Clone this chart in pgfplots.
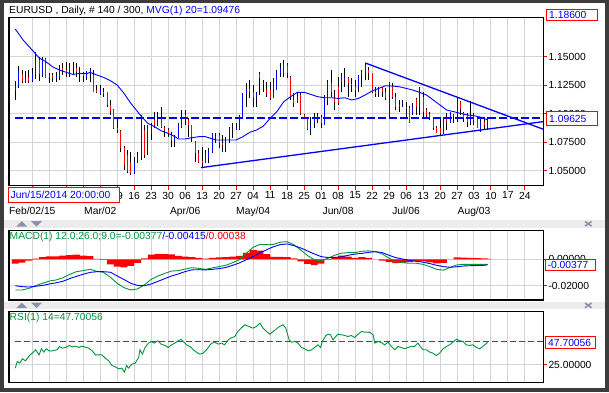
\documentclass[border=0pt]{standalone}
\usepackage{fontspec}
\setmainfont{Liberation Sans}
\usepackage{pgfplots}
\usepackage{pgfplotstable}
\pgfplotsset{compat=1.18}
\definecolor{gridc}{RGB}{212,212,212}
\definecolor{framec}{RGB}{60,60,60}
\definecolor{barbg}{RGB}{236,236,236}
\definecolor{mgreen}{RGB}{0,150,60}
\definecolor{arrowc}{RGB}{135,148,172}

\pgfplotstableread{
i O H L C
0 1.1200 1.1290 1.1125 1.1245
1 1.1240 1.1420 1.1225 1.1375
2 1.1345 1.1383 1.1267 1.1285
3 1.1290 1.1375 1.1267 1.1320
4 1.1320 1.1383 1.1267 1.1290
5 1.1290 1.1398 1.1275 1.1345
6 1.1345 1.1540 1.1305 1.1475
7 1.1475 1.1500 1.1290 1.1345
8 1.1345 1.1500 1.1320 1.1480
9 1.1480 1.1490 1.1310 1.1315
10 1.1330 1.1354 1.1267 1.1320
11 1.1340 1.1354 1.1281 1.1310
12 1.1310 1.1369 1.1281 1.1330
13 1.1310 1.1427 1.1296 1.1400
14 1.1400 1.1442 1.1340 1.1380
15 1.1380 1.1456 1.1325 1.1370
16 1.1370 1.1442 1.1325 1.1410
17 1.1400 1.1456 1.1340 1.1420
18 1.1400 1.1442 1.1325 1.1370
19 1.1370 1.1412 1.1281 1.1380
20 1.1360 1.1370 1.1281 1.1330
21 1.1325 1.1372 1.1300 1.1365
22 1.1360 1.1398 1.1281 1.1380
23 1.1340 1.1383 1.1188 1.1195
24 1.1208 1.1252 1.1179 1.1190
25 1.1170 1.1250 1.1165 1.1205
26 1.1190 1.1223 1.1150 1.1175
27 1.1190 1.1194 1.1062 1.1075
28 1.1080 1.1121 1.0990 1.1025
29 1.1030 1.1040 1.0870 1.0880
30 1.0880 1.0960 1.0829 1.0855
31 1.0850 1.0858 1.0669 1.0700
32 1.0700 1.0715 1.0508 1.0550
33 1.0640 1.0683 1.0480 1.0500
34 1.0581 1.0669 1.0464 1.0479
35 1.0479 1.0625 1.0470 1.0581
36 1.0581 1.0669 1.0567 1.0640
37 1.0610 1.0990 1.0596 1.0960
38 1.0858 1.0902 1.0610 1.0640
39 1.0654 1.0902 1.0640 1.0890
40 1.0820 1.0917 1.0771 1.0900
41 1.0950 1.1019 1.0873 1.0905
42 1.0902 1.1019 1.0890 1.0960
43 1.0960 1.1062 1.0873 1.0887
44 1.0880 1.0890 1.0800 1.0860
45 1.0860 1.0873 1.0800 1.0830
46 1.0815 1.0844 1.0712 1.0771
47 1.0760 1.0815 1.0712 1.0790
48 1.0785 1.0917 1.0785 1.0900
49 1.0887 1.1033 1.0873 1.0975
50 1.0990 1.1036 1.0902 1.0960
51 1.0950 1.0960 1.0800 1.0900
52 1.0900 1.0905 1.0756 1.0800
53 1.0756 1.0760 1.0581 1.0654
54 1.0654 1.0683 1.0567 1.0581
55 1.0590 1.0712 1.0529 1.0570
56 1.0570 1.0683 1.0567 1.0660
57 1.0610 1.0698 1.0567 1.0669
58 1.0669 1.0829 1.0654 1.0825
59 1.0790 1.0829 1.0742 1.0805
60 1.0815 1.0829 1.0698 1.0742
61 1.0742 1.0815 1.0669 1.0730
62 1.0712 1.0800 1.0669 1.0771
63 1.0771 1.0887 1.0742 1.0873
64 1.0860 1.0917 1.0785 1.0870
65 1.0870 1.0917 1.0858 1.0880
66 1.0870 1.0990 1.0858 1.0985
67 1.0975 1.1179 1.0960 1.1170
68 1.1170 1.1267 1.1062 1.1220
69 1.1220 1.1296 1.1135 1.1195
70 1.1195 1.1252 1.1062 1.1145
71 1.1145 1.1194 1.1062 1.1180
72 1.1350 1.1369 1.1165 1.1310
73 1.1270 1.1296 1.1194 1.1265
74 1.1208 1.1281 1.1150 1.1179
75 1.1208 1.1281 1.1121 1.1135
76 1.1135 1.1310 1.1135 1.1281
77 1.1208 1.1383 1.1208 1.1365
78 1.1360 1.1442 1.1325 1.1400
79 1.1354 1.1471 1.1325 1.1442
80 1.1427 1.1442 1.1310 1.1354
81 1.1325 1.1330 1.1121 1.1150
82 1.1121 1.1179 1.1062 1.1092
83 1.1092 1.1194 1.1092 1.1160
84 1.1165 1.1179 1.0990 1.1000
85 1.0990 1.1000 1.0955 1.0962
86 1.0975 1.0975 1.0858 1.0870
87 1.0870 1.0975 1.0815 1.0900
88 1.0917 1.1004 1.0873 1.0960
89 1.0960 1.1004 1.0917 1.0980
90 1.0975 1.0990 1.0880 1.0917
91 1.0902 1.1165 1.0902 1.1150
92 1.1121 1.1296 1.1077 1.1281
93 1.1267 1.1383 1.1150 1.1194
94 1.1135 1.1208 1.1033 1.1106
95 1.1237 1.1325 1.1077 1.1092
96 1.1280 1.1354 1.1194 1.1340
97 1.1296 1.1398 1.1237 1.1320
98 1.1310 1.1325 1.1150 1.1267
99 1.1260 1.1310 1.1194 1.1255
100 1.1237 1.1296 1.1150 1.1208
101 1.1237 1.1340 1.1194 1.1340
102 1.1340 1.1383 1.1237 1.1369
103 1.1354 1.1442 1.1296 1.1427
104 1.1383 1.1412 1.1296 1.1354
105 1.1354 1.1354 1.1179 1.1194
106 1.1194 1.1237 1.1150 1.1175
107 1.1194 1.1237 1.1150 1.1208
108 1.1223 1.1237 1.1150 1.1194
109 1.1194 1.1223 1.1121 1.1135
110 1.0990 1.1281 1.0975 1.1267
111 1.1240 1.1270 1.1130 1.1145
112 1.1150 1.1179 1.1033 1.1060
113 1.1060 1.1121 1.1019 1.1090
114 1.1090 1.1121 1.1062 1.1100
115 1.1060 1.1100 1.0960 1.1055
116 1.1055 1.1065 1.0917 1.0930
117 1.1010 1.1092 1.0990 1.1060
118 1.1130 1.1135 1.0990 1.1062
119 1.1062 1.1237 1.0990 1.1223
120 1.1150 1.1194 1.0975 1.1019
121 1.1033 1.1048 1.0960 1.0990
122 1.1000 1.1019 1.0946 1.0970
123 1.0960 1.0960 1.0858 1.0875
124 1.0875 1.0890 1.0829 1.0835
125 1.0873 1.0975 1.0815 1.0830
126 1.0829 1.0975 1.0825 1.0970
127 1.0960 1.1004 1.0858 1.0930
128 1.0920 1.1019 1.0917 1.1015
129 1.0990 1.0995 1.0917 1.0980
130 1.0990 1.1135 1.0931 1.1130
131 1.1106 1.1110 1.0990 1.1040
132 1.1010 1.1019 1.0931 1.0960
133 1.0990 1.1004 1.0887 1.0931
134 1.0931 1.1110 1.0902 1.0990
135 1.0990 1.1004 1.0902 1.0946
136 1.0960 1.0965 1.0873 1.0880
137 1.0858 1.0960 1.0844 1.0931
138 1.0931 1.0960 1.0858 1.0900
139 1.0873 1.0975 1.0858 1.09625
}\ohlc

\pgfplotstableread{
i ma
0 1.1742
2.3 1.1646
5 1.1558
7 1.1490
9 1.1456
11 1.1412
13 1.1383
15 1.1363
17 1.1345
19 1.1354
21 1.1351
22 1.1363
24 1.1340
26 1.1319
28 1.1290
30 1.1252
32 1.1179
34 1.1092
36 1.1019
37 1.0981
39 1.0917
41 1.0887
43 1.0850
45 1.0829
47 1.0800
48 1.0780
50 1.0780
52 1.0791
54 1.0800
56 1.0800
59 1.0771
63 1.0771
65 1.0771
67 1.0800
69 1.0838
71 1.0858
73 1.0893
75 1.0960
77 1.1019
79 1.1106
81 1.1150
83 1.1188
85 1.1188
87 1.1170
89 1.1150
91 1.1141
93 1.1141
95 1.1135
97 1.1141
99 1.1121
101 1.1135
103 1.1165
105 1.1200
107 1.1223
109 1.1246
111 1.1243
113 1.1237
115 1.1223
117 1.1208
119 1.1188
121 1.1165
123 1.1121
125 1.1077
127 1.1033
129 1.1019
131 1.1004
133 1.0990
135 1.0984
137 1.0970
139 1.0948
}\mvg

\pgfplotstableread{
i macd sig hist
0 -0.0230 -0.0198 -0.0032
2 -0.0230 -0.0205 -0.0025
4 -0.0218 -0.0208 -0.0010
6 -0.0198 -0.0202 0.0004
8 -0.0180 -0.0196 0.0016
10 -0.0163 -0.0185 0.0022
12 -0.0155 -0.0176 0.0021
14 -0.0138 -0.0165 0.0027
16 -0.0113 -0.0145 0.0032
18 -0.0093 -0.0128 0.0035
20 -0.0085 -0.0112 0.0027
22 -0.0075 -0.0098 0.0023
24 -0.0090 -0.0093 0.0003
26 -0.0098 -0.0093 -0.0005
28 -0.0135 -0.0097 -0.0038
30 -0.0180 -0.0125 -0.0055
32 -0.0212 -0.0152 -0.0060
34 -0.0230 -0.0180 -0.0050
36 -0.0222 -0.0196 -0.0026
38 -0.0191 -0.0198 0.0007
40 -0.0150 -0.0185 0.0035
42 -0.0125 -0.0165 0.0040
44 -0.0106 -0.0145 0.0039
46 -0.0088 -0.0125 0.0037
48 -0.0085 -0.0110 0.0025
50 -0.0073 -0.0092 0.0019
52 -0.0063 -0.0079 0.0016
54 -0.0068 -0.0078 0.0010
56 -0.0075 -0.0080 0.0005
58 -0.0065 -0.0075 0.0010
60 -0.0055 -0.0070 0.0015
62 -0.0045 -0.0061 0.0016
64 -0.0025 -0.0045 0.0020
66 -0.0002 -0.0027 0.0025
68 0.0045 -0.0003 0.0048
70 0.0090 0.0020 0.0070
72 0.0111 0.0047 0.0064
74 0.0110 0.0072 0.0038
76 0.0112 0.0094 0.0018
78 0.0128 0.0110 0.0018
80 0.0132 0.0115 0.0017
82 0.0108 0.0102 0.0006
84 0.0070 0.0085 -0.0015
86 0.0028 0.0062 -0.0034
88 -0.0003 0.0040 -0.0043
90 -0.0012 0.0020 -0.0032
92 0.0008 0.0013 -0.0005
94 0.0030 0.0014 0.0016
96 0.0046 0.0018 0.0028
98 0.0050 0.0030 0.0020
100 0.0050 0.0039 0.0011
102 0.0060 0.0044 0.0016
104 0.0063 0.0052 0.0011
106 0.0057 0.0057 0.0000
108 0.0040 0.0050 -0.0010
110 0.0008 0.0030 -0.0022
112 -0.0016 0.0012 -0.0028
114 -0.0025 0.0002 -0.0027
116 -0.0030 -0.0008 -0.0022
118 -0.0030 -0.0015 -0.0015
120 -0.0038 -0.0022 -0.0016
122 -0.0055 -0.0032 -0.0023
124 -0.0075 -0.0045 -0.0030
126 -0.0082 -0.0055 -0.0027
128 -0.0060 -0.0060 0.0000
130 -0.0042 -0.0056 0.0014
132 -0.0038 -0.0050 0.0012
134 -0.0038 -0.0048 0.0010
136 -0.0038 -0.0047 0.0009
138 -0.0038 -0.0045 0.0007
139 -0.00377 -0.00415 0.00038
}\macdtab

\pgfplotstableread{
i rsi
0 21.4
0.6 28.0
1.3 26.3
2.1 30.6
3.0 28.6
4.2 33.9
5.0 36.2
6.0 39.5
7.0 34.5
7.7 40.5
8.4 37.2
9.1 40.5
9.9 38.5
10.9 38.5
12.3 39.5
13.0 42.8
13.8 41.1
14.8 41.8
15.9 43.8
16.7 42.4
17.7 43.1
18.7 41.8
19.6 43.1
21.6 41.1
22.6 38.5
23.6 34.5
24.5 34.5
25.5 34.5
26.5 31.2
27.5 28.6
28.4 24.0
29.4 22.7
30.4 20.7
31.4 21.4
32.1 17.4
32.8 24.0
33.3 21.4
34.3 25.3
35.3 26.3
36.3 31.9
36.7 39.5
37.4 35.2
38.2 41.8
39.2 46.1
40.0 47.7
40.9 46.1
41.9 48.4
42.9 45.1
44.1 43.8
45.0 41.8
46.0 44.4
47.0 46.1
47.9 48.4
48.8 49.7
49.4 47.7
50.4 44.4
51.4 42.8
52.4 39.5
53.3 37.2
54.3 35.2
55.3 36.2
56.3 39.5
57.2 43.8
57.9 46.1
58.7 47.0
59.7 45.1
60.7 46.1
61.6 44.4
62.4 48.4
63.4 51.0
64.6 52.6
65.5 57.6
66.5 60.9
67.5 64.2
68.7 62.5
69.9 60.9
71.0 62.5
72.0 65.8
72.9 60.9
73.9 57.6
74.9 54.9
75.9 57.6
76.9 60.2
77.8 62.5
78.8 64.2
79.6 60.9
80.6 49.3
81.3 47.0
82.3 47.7
83.2 46.1
84.2 41.8
85.2 40.5
86.2 38.5
87.2 39.5
88.1 41.8
89.1 44.4
89.8 41.8
90.4 47.7
91.4 53.6
92.1 54.9
92.8 54.3
93.5 49.3
94.3 52.6
95.0 54.9
96.0 54.3
97.0 53.6
97.9 52.6
98.9 53.6
99.9 51.6
100.9 54.9
101.9 57.6
102.8 56.9
104.3 56.9
105.3 54.3
105.8 46.1
106.8 47.7
107.7 46.7
108.7 44.4
109.7 47.0
110.7 42.8
111.7 39.5
112.6 42.8
113.6 41.8
114.6 40.5
115.6 41.8
116.6 42.8
117.5 42.8
118.5 46.1
119.2 42.8
120.0 39.5
121.0 39.5
122.0 37.2
122.9 36.2
123.9 33.9
124.9 36.2
125.9 40.5
126.9 42.8
127.8 44.4
128.8 47.0
129.8 50.0
130.8 48.4
131.8 47.7
132.7 44.4
133.7 43.8
134.7 44.4
135.7 41.8
136.7 40.5
137.6 42.8
138.8 46.1
139 47.70
}\rsitab

\pgfplotsset{
  panel/.style={
    scale only axis, width=534.3pt,
    xmin=-1.85, xmax=155.4,
    axis line style={black, line width=1.2pt},
    grid=major, major grid style={gridc, line width=1pt},
    xtick={5,10,...,150},
    ytick pos=right, yticklabel pos=right,
    tick align=outside,
    y tick style={red, line width=1pt},
    major tick length=4pt,
    yticklabel style={anchor=west, inner sep=1pt},
    scaled y ticks=false,
    /pgf/number format/assume math mode=true,
    clip=true,
  },
  candle/.style={draw=none, mark=none, forget plot,
    error bars/.cd, y dir=plus, y explicit, error mark=none,
    error bar style={draw=#1, line width=1pt}},
}

\begin{document}
\begin{tikzpicture}[font=\fontsize{10.3}{12}\selectfont]
\useasboundingbox (0pt,0pt) rectangle (609pt,392pt);
\fill[framec] (0pt,0pt) rectangle (609pt,392pt);
\fill[white] (4pt,4pt) rectangle (605pt,389pt);
\fill[barbg] (4pt,164.3pt) rectangle (605pt,172pt);
\fill[barbg] (4pt,82.7pt) rectangle (605pt,89.6pt);
% panel arrows
\foreach \yy in {164.3, 82.7}{
  \fill[arrowc] (16.3pt,\yy pt+1.2pt) -- (27.2pt,\yy pt+1.2pt) -- (21.75pt,\yy pt+6.6pt) -- cycle;
  \fill[arrowc] (31pt,\yy pt+6.6pt) -- (42pt,\yy pt+6.6pt) -- (36.5pt,\yy pt+1.2pt) -- cycle;
  \draw[arrowc, line width=1.6pt] (585pt,\yy pt+1.6pt) -- (591.5pt,\yy pt+6.2pt);
  \draw[arrowc, line width=1.6pt] (585pt,\yy pt+6.2pt) -- (591.5pt,\yy pt+1.6pt);
}

% ---------------- main price panel
\begin{axis}[panel,
  at={(9pt,206.3pt)}, anchor=south west, height=168.2pt,
  ymin=1.0371, ymax=1.1843,
  ytick={1.05,1.075,1.1,1.125,1.15},
  yticklabels={1.05000,1.07500,1.10000,1.12500,1.15000},
  xticklabels={02,09,16,23,02,09,16,23,30,06,13,20,27,04,11,18,25,01,08,15,22,29,06,13,20,27,03,10,17,24},
  xtick pos=bottom,
  x tick style={red, line width=1pt},
  xticklabel style={inner sep=1pt, yshift=-1pt},
  extra x ticks={5,25,50,70,95,115,135},
  extra x tick labels={Feb/02/15,Mar/02,Apr/06,May/04,Jun/08,Jul/06,Aug/03},
  extra x tick style={grid=none, major tick length=0pt, xticklabel style={yshift=-19pt}},
]
% wicks
\addplot[candle=black] table[x=i, y=L, y error expr=\thisrow{H}-\thisrow{L}] {\ohlc};
% up bodies
\addplot[restrict expr to domain={\thisrow{C}-\thisrow{O}}{0:1}, candle=blue]
  table[x=i, y=O, y error expr=\thisrow{C}-\thisrow{O}] {\ohlc};
% down bodies
\addplot[restrict expr to domain={\thisrow{O}-\thisrow{C}}{0.00001:1}, candle=red]
  table[x=i, y=C, y error expr=\thisrow{O}-\thisrow{C}] {\ohlc};
% moving average
\addplot[blue, line width=0.9pt, mark=none] table[x=i, y=ma] {\mvg};
% trend lines
\addplot[blue, line width=1.3pt, mark=none] coordinates {(103,1.1445) (155.4,1.0865)};
\addplot[blue, line width=1.3pt, mark=none] coordinates {(54.6,1.0529) (155.4,1.0932)};
% current price
\addplot[blue, line width=1.3pt, mark=none, dash pattern=on 7.5pt off 3.5pt] coordinates {(0,1.09625) (155.4,1.09625)};
\end{axis}

% ---------------- MACD panel
\begin{axis}[panel,
  at={(9pt,92pt)}, anchor=south west, height=69.3pt,
  ymin=-0.0305, ymax=0.0214,
  ytick={-0.02,0}, yticklabels={-0.02000,0.00000},
  xticklabels={}, x tick style={draw=none},
]
\addplot[ybar, bar width=6.8pt, bar shift=0pt, fill=red, draw=none] table[x=i, y=hist] {\macdtab};
\addplot[mgreen, line width=0.9pt, mark=none] table[x=i, y=macd] {\macdtab};
\addplot[blue, line width=0.9pt, mark=none] table[x=i, y=sig] {\macdtab};
\end{axis}

% ---------------- RSI panel
\begin{axis}[panel,
  at={(9pt,9.3pt)}, anchor=south west, height=71pt,
  ymin=7.0, ymax=77.1,
  ytick={25}, yticklabels={25.00000},
  xticklabels={}, x tick style={draw=none},
]
\addplot[red, line width=1pt, mark=none, dash pattern=on 6pt off 3pt] coordinates {(0,47.70056) (155.4,47.70056)};
\addplot[mgreen, line width=0.9pt, mark=none] table[x=i, y=rsi] {\rsitab};
\end{axis}

% ---------------- texts and value boxes
\node[anchor=west, inner sep=0pt] at (9pt,381pt) {EURUSD , Daily, \# 140 / 300, \textcolor{blue}{MVG(1) 20=1.09476}};
\node[anchor=west, inner sep=0pt] at (9.5pt,155.3pt) {\textcolor{mgreen}{MACD(1) 12.0;26.0;9.0=-0.00377}\textcolor{blue}{/-0.00415}\textcolor{red}{/0.00038}};
\node[anchor=west, inner sep=0pt, text=mgreen] at (9.5pt,73.7pt) {RSI(1) 14=47.70056};

\filldraw[fill=white, draw=red, line width=1pt] (546.5pt,371.3pt) rectangle (597pt,382.7pt);
\node[anchor=west, inner sep=0pt, text=blue] at (549pt,377pt) {1.18600};
\filldraw[fill=white, draw=red, line width=1pt] (546.5pt,266.7pt) rectangle (597pt,280.3pt);
\node[anchor=west, inner sep=0pt, text=blue] at (549pt,273.5pt) {1.09625};
\filldraw[fill=white, draw=red, line width=1pt] (545.6pt,122pt) rectangle (595.5pt,132.7pt);
\node[anchor=west, inner sep=0pt, text=blue] at (547.5pt,127.3pt) {-0.00377};
\filldraw[fill=white, draw=red, line width=1pt] (545.6pt,43.7pt) rectangle (595.5pt,55.3pt);
\node[anchor=west, inner sep=0pt, text=blue] at (548pt,49.5pt) {47.70056};
\filldraw[fill=white, draw=red, line width=1pt] (8.5pt,189.3pt) rectangle (119pt,204.3pt);
\node[anchor=west, inner sep=0pt, text=blue] at (10.5pt,196.8pt) {Jun/15/2014 20:00:00};
\end{tikzpicture}
\end{document}
